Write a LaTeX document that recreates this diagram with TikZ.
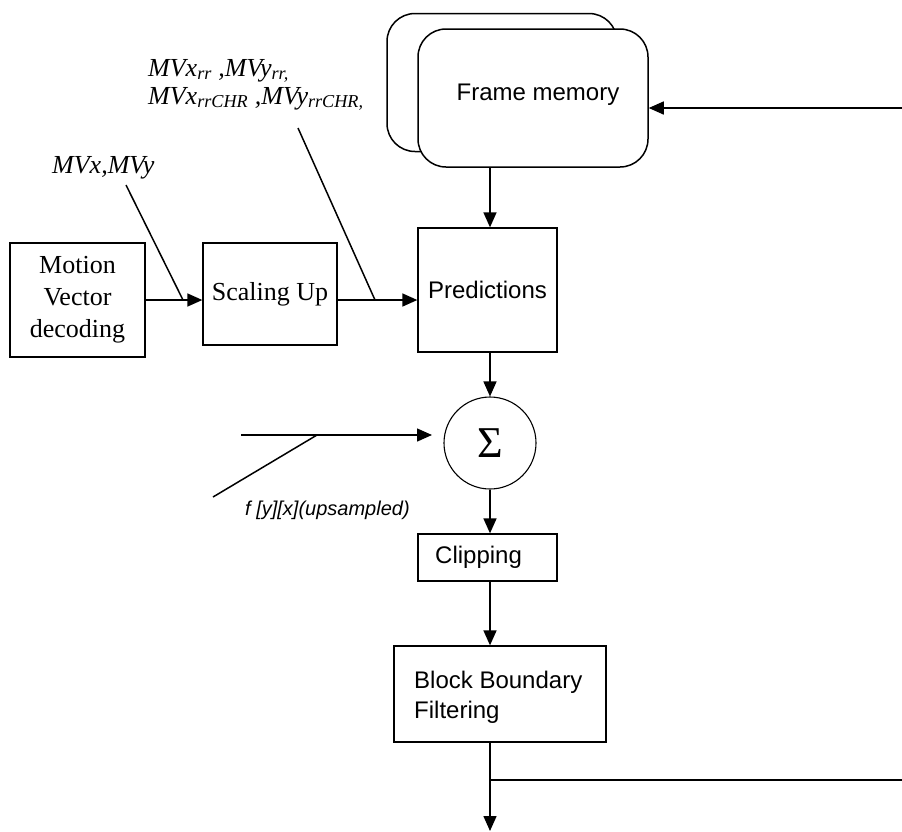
\documentclass[tikz,border=0pt]{standalone}
\usepackage{fontspec}
\setmainfont{Liberation Serif}
\newfontfamily\arialfont{Liberation Sans}
\usetikzlibrary{arrows.meta}
\begin{document}
\begin{tikzpicture}[x=1pt,y=-1pt,
  box/.style={draw,line width=1.3pt,inner sep=0pt,rectangle},
  membox/.style={draw,line width=1.5pt,rounded corners=28pt,fill=white,minimum width=230pt,minimum height=138pt,inner sep=0pt},
  arr/.style={line width=1.5pt,-{Triangle[length=15pt,width=13pt]}},
  ln/.style={line width=1.5pt},
  serif/.style={font=\fontsize{26}{32}\selectfont},
  sans/.style={font=\arialfont\fontsize{24}{30}\selectfont},
  lbl/.style={inner sep=0pt,anchor=base west}]
\useasboundingbox (0,0) rectangle (902,831);

% frame memory
\node[membox] (back) at (502,82.5) {};
\node[membox] (front) at (533,98) {};
\node[sans,inner sep=0pt] (fmtext) at (538,95) {Frame memory};

% boxes
\node[box,serif,minimum width=135pt,minimum height=114pt,align=center] (mvd) at (77.5,300) {Motion\\Vector\\decoding};
\node[box,serif,minimum width=134pt,minimum height=102pt] (scale) at (270,294) {Scaling Up};
\node[box,sans,minimum width=139pt,minimum height=124pt] (pred) at (487.5,290) {Predictions};
\node[draw,circle,line width=1.1pt,minimum size=92pt,inner sep=0pt,font=\fontsize{44}{44}\selectfont] (sig) at (490,443) {Σ};
\node[box,minimum width=139pt,minimum height=47pt] (clip) at (487.5,557.5) {};
\node[sans,inner sep=0pt,anchor=west] (cliptext) at (435,557) {Clipping};
\node[box,minimum width=212pt,minimum height=96pt] (bbf) at (500,694) {};
\node[sans,inner sep=0pt,anchor=west,align=left] (bbftext) at (414,697) {Block Boundary\\Filtering};

% labels
\node[lbl,serif] (lab1) at (148,76) {\itshape MVx\textsubscript{rr} ,MVy\textsubscript{rr,}};
\node[lbl,serif] (lab2) at (148,104) {\itshape MVx\textsubscript{rrCHR} ,MVy\textsubscript{rrCHR,}};
\node[lbl,serif] (lab3) at (52,173) {\itshape MVx,MVy};
\node[lbl,font=\arialfont\itshape\fontsize{20}{24}\selectfont] (lab4) at (245,515) {f [y][x](upsampled)};

% coordinates
\coordinate (rtop) at (902,108);
\coordinate (rbot) at (902,780);
\coordinate (outend) at (490,831);
\coordinate (fin) at (241,435);
\coordinate (fintip) at (432,435);
\coordinate (j1) at (183,300);
\coordinate (j2) at (375,300);
\coordinate (j3) at (317,435);
\coordinate (s1) at (126,185);
\coordinate (s2) at (298,128);
\coordinate (s3) at (213,497);
\coordinate (br) at (490,780);

% connectors
\draw[arr] (mvd.east |- j1) -- (scale.west |- j1);
\draw[arr] (scale.east |- j2) -- (pred.west |- j2);
\draw[ln] (s1) -- (j1);
\draw[ln] (s2) -- (j2);
\draw[arr] (rtop) -- (front.east |- rtop);
\draw[arr] (front.south -| sig) -- (pred.north -| sig);
\draw[arr] (pred.south -| sig) -- (sig.north);
\draw[arr] (fin) -- (fintip);
\draw[ln] (s3) -- (j3);
\draw[arr] (sig.south) -- (clip.north -| sig);
\draw[arr] (clip.south -| sig) -- (bbf.north -| sig);
\draw[arr] (bbf.south -| sig) -- (outend);
\draw[ln] (br) -- (rbot);
\end{tikzpicture}
\end{document}
